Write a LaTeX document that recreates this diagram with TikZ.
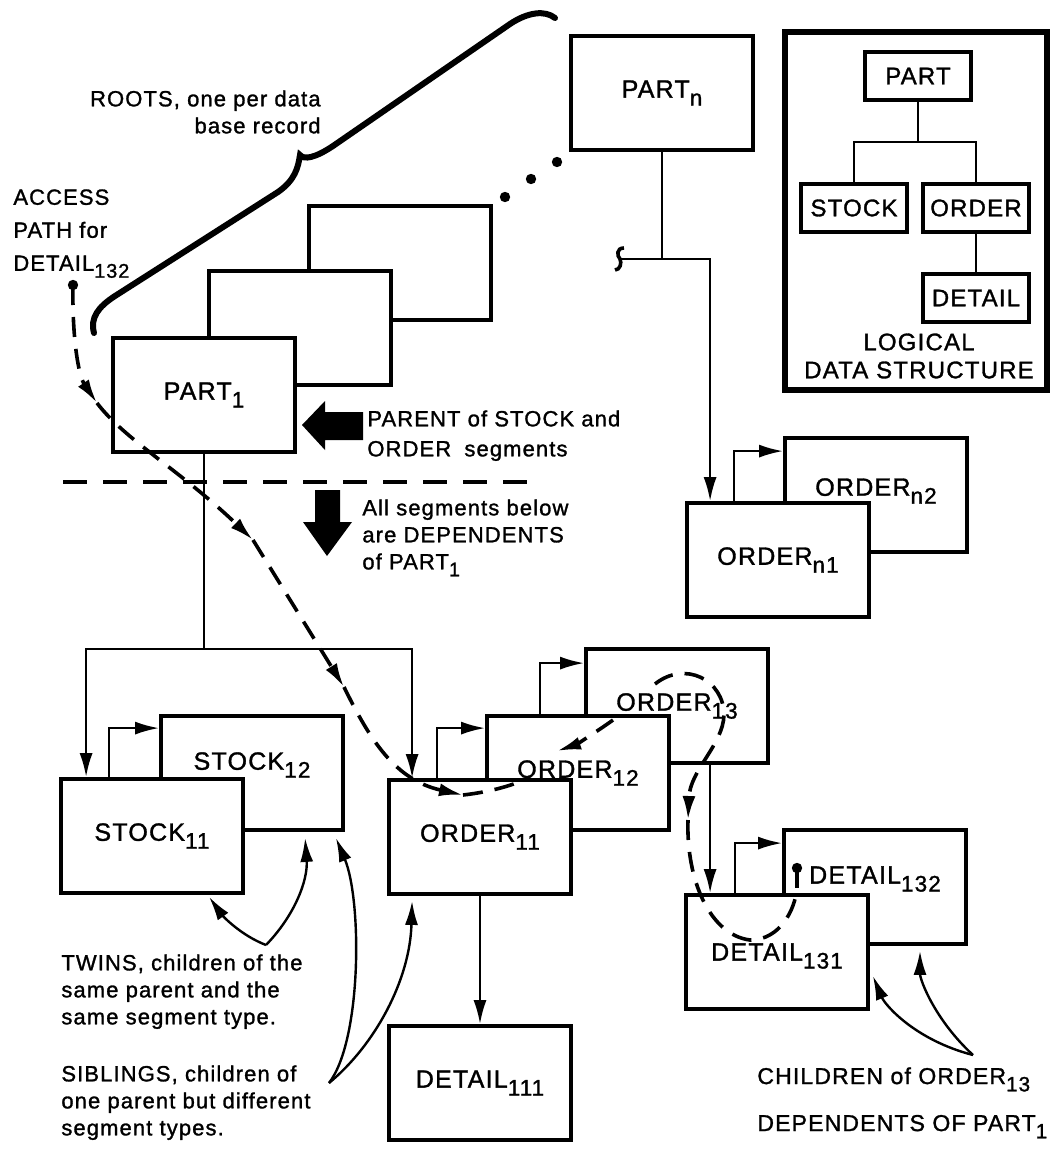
\documentclass[tikz,border=0pt]{standalone}
\usepackage{fontspec}
\setmainfont{Liberation Sans}[LetterSpace=5.0, FakeBold=1.3]
\usetikzlibrary{arrows.meta}
\usetikzlibrary{calc}

\newcommand{\ix}[1]{\raisebox{-0.6ex}{\scalebox{0.9}{#1}}}

\tikzset{
  seg/.style={draw, line width=1.9pt, fill=white, minimum width=91pt, minimum height=57pt, inner sep=0pt, font=\fontsize{12.5}{14}\selectfont},
  ldsbox/.style={draw, line width=1.6pt, minimum width=53pt, minimum height=24pt, inner sep=0pt, font=\fontsize{12}{14}\selectfont},
  link/.style={line width=1.2pt},
  accesspath/.style={line width=1.8pt, dash pattern=on 10pt off 6pt},
  note/.style={align=left, anchor=north west, inner sep=0pt}
}

\begin{document}
\begin{tikzpicture}[x=0.5pt, y=-0.5pt, font=\fontsize{11}{13.5}\selectfont, >={Latex[length=12pt,width=6.5pt]}]
  \useasboundingbox (0,0) rectangle (1053,1151);

  % the segments
  \begin{scope}[every node/.style={seg}]
    \node (root3) at (400,263) {};
    \node (root2) at (300,328) {};
    \node (part1) at (204,395) {PART\ix{1}};
    \node (partn) at (662,93) {PART\ix{n}};
    \node[text depth=8pt] (ordern2) at (876,495) {ORDER\ix{n2}};
    \node (ordern1) at (778,560) {ORDER\ix{n1}};
    \node[text depth=12pt] (stock12) at (252,773) {STOCK\ix{12}};
    \node (stock11) at (152,836) {STOCK\ix{11}};
    \node (order13) at (677,706) {ORDER\ix{13}};
    \node (order12) at (578,773) {ORDER\ix{12}};
    \node (order11) at (480,837) {ORDER\ix{11}};
    \node (detail111) at (480,1083) {DETAIL\ix{111}};
    \node[text depth=12pt] (detail132) at (875,887) {DETAIL\ix{132}};
    \node[text depth=0pt] (detail131) at (777,952) {DETAIL\ix{131}};
  \end{scope}

  % roots brace and dots
  \draw[line width=3pt, line cap=round] (94,333) .. controls (90,318) and (98,307) .. (115,296) -- (278,192)
    .. controls (295,180) and (298,168) .. (300,155) .. controls (304,160) and (315,158) .. (333,146)
    -- (510,24) .. controls (528,12) and (545,10) .. (555,18);
  \fill (557,162) circle (2.6pt);
  \fill (531,179) circle (2.6pt);
  \fill (505,197) circle (2.6pt);

  % parent/child links
  \coordinate (fork) at ($(part1.south)+(0,195)$);
  \draw[link] (part1.south) -- (fork);
  \draw[link,->] (fork) -| ($(stock11.north west)+(27,0)$);
  \draw[link,->] (fork) -| ($(order11.north west)+(25,0)$);
  \draw[link,->] (order11.south) -- (detail111.north);
  \draw[link,->] ($(order13.south west)+(126,0)$) -- ($(detail131.north west)+(26,0)$);

  \coordinate (nfork) at ($(partn.south)+(0,107)$);
  \coordinate (nbreak) at ($(nfork)+(-42,0)$);
  \draw[link] (partn.south) -- (nfork);
  \draw[link,->] (nbreak) -| ($(ordern1.north west)+(25,0)$);
  \draw[line width=1.8pt] (624,248) .. controls (616,248) and (617,256) .. (620,259)
    .. controls (622,263) and (620,270) .. (615,270);

  % twin links
  \draw[link,->] ($(stock11.north west)+(50,0)$) |- ($(stock12.north west)+(0,14)$);
  \draw[link,->] ($(order11.north west)+(50,0)$) |- ($(order12.north west)+(0,14)$);
  \draw[link,->] ($(order12.north west)+(55,0)$) |- ($(order13.north west)+(0,16)$);
  \draw[link,->] ($(ordern1.north west)+(49,0)$) |- ($(ordern2.north west)+(0,15)$);
  \draw[link,->] ($(detail131.north west)+(51,0)$) |- ($(detail132.north west)+(0,15)$);

  % parent marker and dependents line
  \fill (302,425) -- (325,401) -- (325,412) -- (363,412) -- (363,440) -- (325,440) -- (325,450) -- cycle;
  \draw[line width=1.6pt, dash pattern=on 12pt off 8pt] (63,482) -- (540,482);
  \fill (315,490) -- (340,490) -- (340,522) -- (352,522) -- (327,556) -- (303,522) -- (315,522) -- cycle;

  % access path for DETAIL132
  \coordinate (acc) at (73,285);
  \coordinate (pin) at (797,888);
  \fill (acc) circle (2.6pt);
  \draw[accesspath,->] (acc) .. controls (72,335) and (78,375) .. (97,403);
  \draw[accesspath,->] (97,403) .. controls (125,440) and (180,470) .. (253,540);
  \draw[accesspath,->] (253,540) -- (344,687);
  \draw[accesspath,->] (344,687) .. controls (370,740) and (395,780) .. (463,795);
  \draw[accesspath] (463,795) .. controls (490,792) and (515,785) .. (530,777);
  \draw[accesspath,->] (613,720) .. controls (595,733) and (575,745) .. (557,751);
  \draw[accesspath,->] (655,684) .. controls (685,660) and (724,680) .. (724,715)
    .. controls (723,745) and (690,770) .. (688,820);
  \draw[accesspath] (688,820) .. controls (686,880) and (710,935) .. (750,940)
    .. controls (780,940) and (795,910) .. (pin);
  \fill (797,868) circle (2.6pt);
  \draw[line width=1.6pt] (797,868) -- (pin);

  % logical data structure
  \draw[line width=3pt] (785,32) rectangle (1047,390);
  \begin{scope}[every node/.style={ldsbox}]
    \node (lpart) at (918,76) {PART};
    \node (lstock) at (854,208) {STOCK};
    \node (lorder) at (976,208) {ORDER};
    \node (ldetail) at (976,298) {DETAIL};
  \end{scope}
  \coordinate (lfork) at (918,142);
  \draw[line width=1.3pt] (lpart.south) -- (lfork);
  \draw[line width=1.3pt] (lfork) -| (lstock.north);
  \draw[line width=1.3pt] (lfork) -| (lorder.north);
  \draw[line width=1.3pt] (lorder) -- (ldetail);
  \node[align=center, font=\fontsize{12}{14}\selectfont] (ldslabel) at (919,356) {LOGICAL\\DATA STRUCTURE};

  % notes
  \node[note, anchor=north east, align=right] (roots) at (321,90) {ROOTS, one per data\\base record};
  \node[note, font=\fontsize{11}{16.5}\selectfont] (access) at (13,189) {ACCESS\\PATH for\\DETAIL\ix{132}};
  \node[note, font=\fontsize{11}{15}\selectfont] (parent) at (367,410) {PARENT of STOCK and\\ORDER\hspace{0.6em}segments};
  \node[note] (below) at (362,499) {All segments below\\are DEPENDENTS\\of PART\ix{1}};
  \node[note] (twins) at (61,954) {TWINS, children of the\\same parent and the\\same segment type.};
  \node[note] (siblings) at (61,1065) {SIBLINGS, children of\\one parent but different\\segment types.};
  \node[note, font=\fontsize{11.5}{23.5}\selectfont] (children) at (757,1067) {CHILDREN of ORDER\ix{13}\\DEPENDENTS OF PART\ix{1}};

  % pointers from the notes
  \coordinate (tw) at (266,945);
  \coordinate (sb) at (329,1083);
  \coordinate (ch) at (973,1055);
  \draw[link,->] (tw) .. controls (240,935) and (222,915) .. ($(stock11.south west)+(150,2)$);
  \draw[link,->] (tw) .. controls (295,915) and (308,880) .. ($(stock12.south west)+(146,6)$);
  \draw[link,->] (sb) .. controls (362,1040) and (362,900) .. ($(stock12.south east)+(-9,6)$);
  \draw[link,->] (sb) .. controls (375,1045) and (410,980) .. ($(order11.south west)+(25,5)$);
  \draw[link,->] (ch) .. controls (915,1040) and (885,1005) .. ($(detail131.east)+(3,24)$);
  \draw[link,->] (ch) .. controls (935,1020) and (920,980) .. ($(detail132.south)+(45,5)$);
\end{tikzpicture}
\end{document}
